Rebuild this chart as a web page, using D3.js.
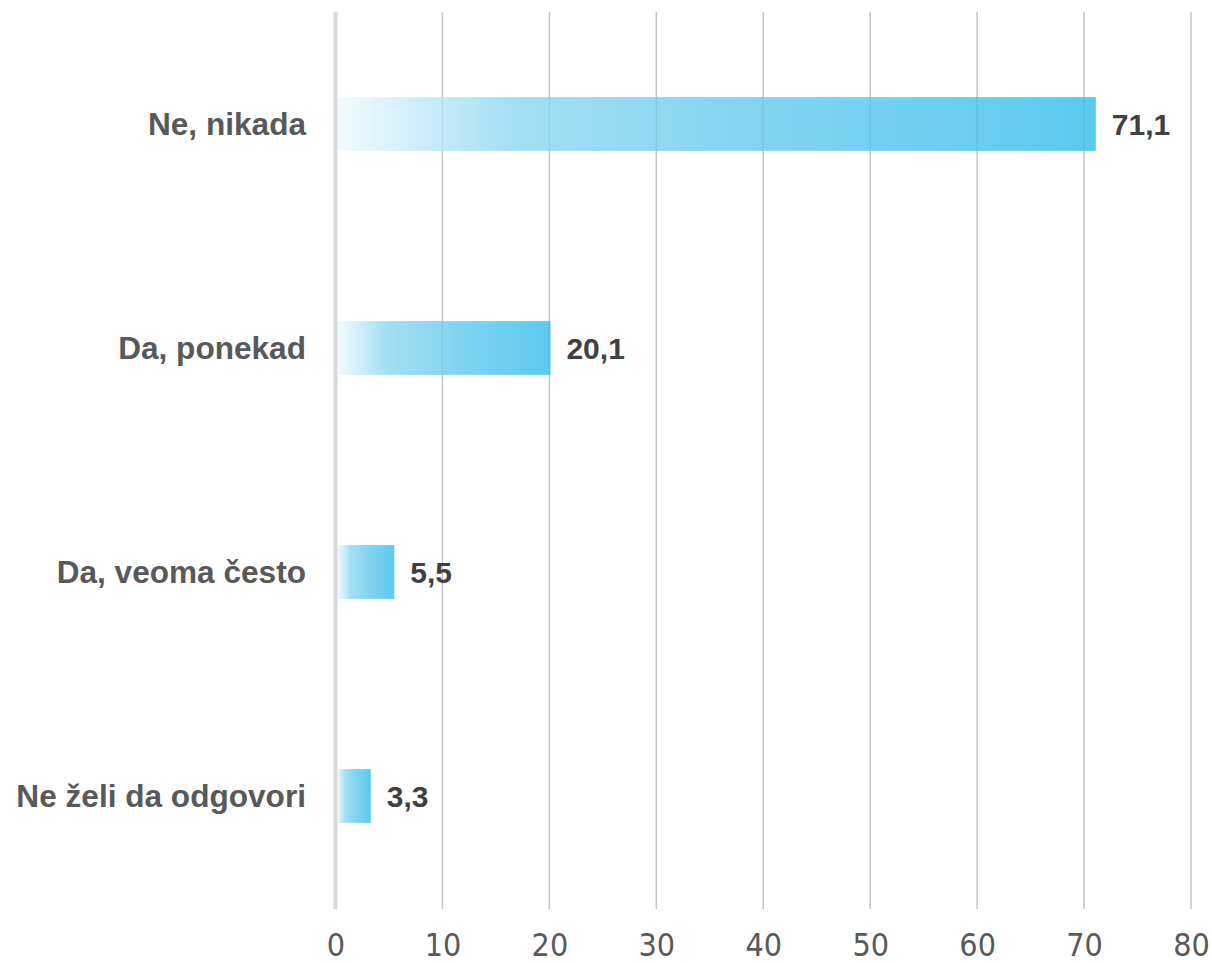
<!DOCTYPE html>
<html>
<head>
<meta charset="utf-8">
<script src="https://cdn.jsdelivr.net/npm/d3@7"></script>
<style>
  body { margin: 0; background: #fff; }
</style>
</head>
<body>
<div id="container"></div>
<script>
let w = 1212;
let h = 963;

let categories = ["Ne, nikada", "Da, ponekad", "Da, veoma često", "Ne želi da odgovori"];
let values = [71.1, 20.1, 5.5, 3.3];
let ticks = [0, 10, 20, 30, 40, 50, 60, 70, 80];

let x = d3.scaleLinear().domain([0, 80]).range([335.5, 1191]);
let y = d3.scaleBand().domain(categories).range([12, 908]).paddingInner(0.76).paddingOuter(0.38);

let viz = d3.select("#container")
  .append("svg")
  .attr("width", w)
  .attr("height", h)
  .style("background-color", "white");

let defs = viz.append("defs");
let grad = defs.append("linearGradient")
  .attr("id", "barGrad")
  .attr("x1", "0").attr("x2", "1")
  .attr("y1", "0").attr("y2", "0");
grad.append("stop").attr("offset", "0").attr("stop-color", "#f4fbfe");
grad.append("stop").attr("offset", "0.23").attr("stop-color", "#a3dff4");
grad.append("stop").attr("offset", "0.5").attr("stop-color", "#88d5f1");
grad.append("stop").attr("offset", "1").attr("stop-color", "#5bc9ef");

let gridTicks = ticks.filter(d => d > 0);

// gridlines under the bars
viz.append("g").selectAll("line")
  .data(gridTicks)
  .enter()
  .append("line")
  .attr("x1", d => x(d)).attr("x2", d => x(d))
  .attr("y1", 12).attr("y2", 909)
  .attr("stroke", "#d2d2d2")
  .attr("stroke-width", 1.5);

// bars
viz.append("g").selectAll("rect")
  .data(values)
  .enter()
  .append("rect")
  .attr("x", x(0) + 2)
  .attr("y", (d, i) => y(categories[i]))
  .attr("width", d => x(d) - x(0) - 2)
  .attr("height", y.bandwidth())
  .attr("fill", "url(#barGrad)");

// faint gridlines showing through the bars
viz.append("g").selectAll("line")
  .data(gridTicks)
  .enter()
  .append("line")
  .attr("x1", d => x(d)).attr("x2", d => x(d))
  .attr("y1", 12).attr("y2", 909)
  .attr("stroke", "rgba(0,0,0,0.06)")
  .attr("stroke-width", 1.5);

// tick labels
let xAxis = d3.axisBottom(x).tickValues(ticks).tickSize(0).tickFormat(d3.format("d"));
let axisG = viz.append("g")
  .attr("transform", "translate(0,908)")
  .call(xAxis);
axisG.select(".domain").remove();
axisG.selectAll("text")
  .attr("dy", null)
  .attr("y", 48)
  .attr("fill", "#595959")
  .style("font-family", "'Liberation Sans Narrow', 'DejaVu Sans Condensed', sans-serif")
  .style("font-size", "32px");

// zero axis line
viz.append("line")
  .attr("x1", x(0)).attr("x2", x(0))
  .attr("y1", 12).attr("y2", 909)
  .attr("stroke", "#d9d9d9")
  .attr("stroke-width", 4);

// category labels
viz.append("g").selectAll("text")
  .data(categories)
  .enter()
  .append("text")
  .attr("x", 306)
  .attr("y", d => y(d) + y.bandwidth() / 2)
  .attr("dy", "0.36em")
  .attr("text-anchor", "end")
  .attr("fill", "#595959")
  .style("font-family", "'Liberation Sans', Arial, sans-serif")
  .style("font-weight", "bold")
  .style("font-size", "31.6px")
  .text(d => d);

// value labels
viz.append("g").selectAll("text")
  .data(values)
  .enter()
  .append("text")
  .attr("x", d => x(d) + 16)
  .attr("y", (d, i) => y(categories[i]) + y.bandwidth() / 2)
  .attr("dy", "0.36em")
  .attr("fill", "#404040")
  .style("font-family", "'Liberation Sans', Arial, sans-serif")
  .style("font-weight", "bold")
  .style("font-size", "30px")
  .text(d => d3.format(".1f")(d).replace(".", ","));
</script>
</body>
</html>
